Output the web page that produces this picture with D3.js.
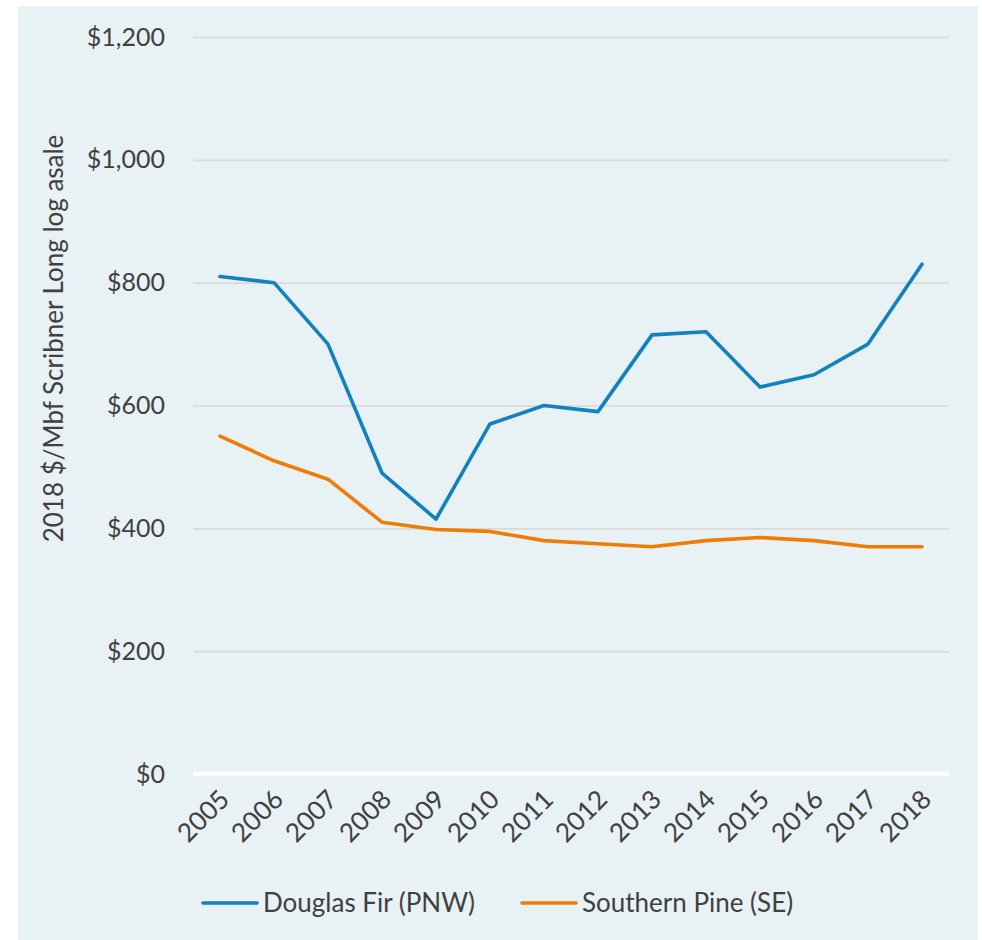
<!DOCTYPE html>
<html>
<head>
<meta charset="utf-8">
<script src="https://cdn.jsdelivr.net/npm/d3@7"></script>
<style>
  html, body { margin: 0; padding: 0; background: #ffffff; }
  svg { display: block; }
  text { font-family: Lato, "Open Sans", sans-serif; fill: #404040; }
</style>
</head>
<body>
<svg id="chart" width="982" height="940"></svg>
<script>
// Stumpage log prices, 2018 dollars per thousand board feet
const years = ["2005","2006","2007","2008","2009","2010","2011","2012","2013","2014","2015","2016","2017","2018"];
const douglasFir = [810, 800, 700, 490, 415, 570, 600, 590, 715, 720, 630, 650, 700, 830];
const southernPine = [550, 510, 480, 410, 398, 395, 380, 375, 370, 380, 385, 380, 370, 370];
const yTicks = [0, 200, 400, 600, 800, 1000, 1200];
const seriesNames = ["Douglas Fir (PNW)", "Southern Pine (SE)"];
const seriesColors = ["#1380C0", "#EF7D05"];
const yTitle = "2018 $/Mbf Scribner Long log asale";

const series = [
  { name: seriesNames[0], color: seriesColors[0], values: douglasFir },
  { name: seriesNames[1], color: seriesColors[1], values: southernPine }
];

const svg = d3.select("#chart");
const W = 982, H = 940;
const plot = { left: 193, right: 949, top: 37, bottom: 774 };

// panel background
svg.append("rect")
  .attr("x", 18).attr("y", 6)
  .attr("width", W - 18 - 4).attr("height", H - 6)
  .attr("fill", "#E8F1F4");

const x = d3.scaleBand().domain(years).range([plot.left, plot.right]);
const y = d3.scaleLinear().domain([0, 1200]).range([plot.bottom, plot.top]);

// horizontal gridlines
const yAxis = d3.axisLeft(y)
  .tickValues(yTicks)
  .tickSize(-(plot.right - plot.left))
  .tickPadding(28)
  .tickFormat(d => "$" + d3.format(",")(d));

const gy = svg.append("g")
  .attr("transform", `translate(${plot.left},0)`)
  .call(yAxis);
gy.select(".domain").remove();
gy.selectAll(".tick line")
  .attr("stroke", d => d === 0 ? "none" : "#D9D9D9")
  .attr("stroke-width", 1.6);
gy.selectAll(".tick text")
  .attr("font-size", 25)
  .attr("fill", "#404040")
  .style("font-family", "Lato, 'Open Sans', sans-serif");

// x axis baseline
svg.append("line")
  .attr("x1", plot.left).attr("x2", plot.right)
  .attr("y1", y(0)).attr("y2", y(0))
  .attr("stroke", "#ffffff").attr("stroke-width", 4.5);

// x tick labels, rotated
const gx = svg.append("g")
  .attr("transform", `translate(0,${plot.bottom})`)
  .call(d3.axisBottom(x).tickSize(0).tickPadding(0));
gx.select(".domain").remove();
gx.selectAll(".tick text")
  .attr("font-size", 26)
  .attr("fill", "#404040")
  .style("font-family", "Lato, 'Open Sans', sans-serif")
  .attr("text-anchor", "end")
  .attr("dy", null)
  .attr("y", 0)
  .attr("transform", "translate(11,27) rotate(-45)");

// y axis title
svg.append("text")
  .attr("transform", `translate(63,${(plot.top + plot.bottom) / 2 - 67}) rotate(-90)`)
  .attr("text-anchor", "middle")
  .attr("font-size", 26)
  .text(yTitle);

// series lines
const line = d3.line()
  .x((d, i) => x(years[i]) + x.bandwidth() / 2)
  .y(d => y(d));

svg.append("g").selectAll("path")
  .data(series)
  .join("path")
  .attr("d", d => line(d.values))
  .attr("fill", "none")
  .attr("stroke", d => d.color)
  .attr("stroke-width", 3.6)
  .attr("stroke-linejoin", "round")
  .attr("stroke-linecap", "round");

// legend
const legendX = [203, 522];
const legendY = 903;
const lg = svg.append("g").selectAll("g")
  .data(series)
  .join("g")
  .attr("transform", (d, i) => `translate(${legendX[i]},${legendY})`);
lg.append("line")
  .attr("x1", 0).attr("x2", 54)
  .attr("y1", 0).attr("y2", 0)
  .attr("stroke", d => d.color)
  .attr("stroke-width", 3.6)
  .attr("stroke-linecap", "round");
lg.append("text")
  .attr("x", 60)
  .attr("y", 0)
  .attr("dy", "0.35em")
  .attr("font-size", 26)
  .text(d => d.name);
</script>
</body>
</html>
